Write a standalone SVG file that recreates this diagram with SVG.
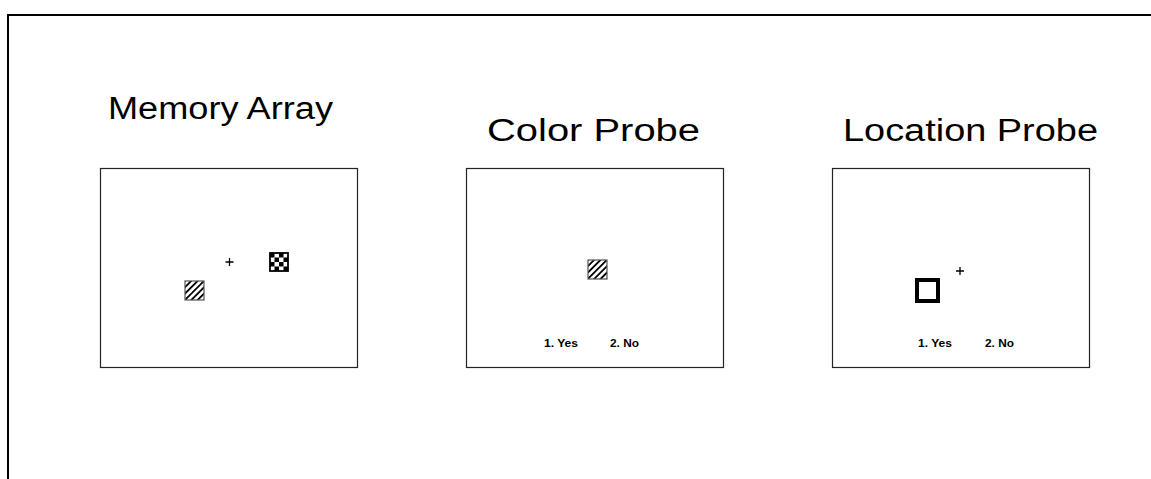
<svg xmlns="http://www.w3.org/2000/svg" width="1151" height="479" viewBox="0 0 1151 479">
<style>
.title{font-family:"Liberation Sans",Arial,sans-serif;font-size:31px;fill:#000}
.opt{font-family:"Liberation Sans",Arial,sans-serif;font-size:11px;font-weight:bold;fill:#000}
.screen{fill:#fff;stroke:#222;stroke-width:1.2}
.cross{stroke:#000;stroke-width:1.3}
</style>
<defs>
<pattern id="hatch" patternUnits="userSpaceOnUse" width="4.5" height="4.5" patternTransform="rotate(45)">
<rect width="4.5" height="4.5" fill="#fff"/>
<rect x="0" y="0" width="1.8" height="4.5" fill="#000"/>
</pattern>
<pattern id="checker" patternUnits="userSpaceOnUse" x="270" y="253" width="9" height="9">
<rect width="9" height="9" fill="#fff"/>
<rect width="4.5" height="4.5" fill="#000"/>
<rect x="4.5" y="4.5" width="4.5" height="4.5" fill="#000"/>
</pattern>
</defs>
<rect width="1151" height="479" fill="#fff"/>
<path d="M8 479 V15 H1151" fill="none" stroke="#000" stroke-width="2"/>
<g id="memory-array">
<text class="title" x="108" y="119" textLength="225" lengthAdjust="spacingAndGlyphs">Memory Array</text>
<rect class="screen" x="100.5" y="168.5" width="257" height="199"/>
<path class="cross" d="M225.5 262 h8 M229.5 258 v8"/>
<rect x="270" y="253" width="18" height="18" fill="url(#checker)" stroke="#000" stroke-width="1.8"/>
<rect x="185" y="281" width="19" height="19" fill="url(#hatch)" stroke="#555" stroke-width="1.2"/>
</g>
<g id="color-probe">
<text class="title" x="487" y="141" textLength="213" lengthAdjust="spacingAndGlyphs">Color Probe</text>
<rect class="screen" x="466.5" y="168.5" width="257" height="199"/>
<rect x="588" y="260" width="19" height="19" fill="url(#hatch)" stroke="#555" stroke-width="1.2"/>
<text class="opt" x="544" y="347" textLength="34" lengthAdjust="spacingAndGlyphs">1. Yes</text>
<text class="opt" x="610" y="347" textLength="29" lengthAdjust="spacingAndGlyphs">2. No</text>
</g>
<g id="location-probe">
<text class="title" x="843" y="141" textLength="255" lengthAdjust="spacingAndGlyphs">Location Probe</text>
<rect class="screen" x="832.5" y="168.5" width="257" height="199"/>
<path class="cross" d="M956 271 h8 M960 267 v8"/>
<rect x="917" y="280" width="21" height="21" fill="none" stroke="#000" stroke-width="4"/>
<text class="opt" x="918" y="347" textLength="34" lengthAdjust="spacingAndGlyphs">1. Yes</text>
<text class="opt" x="985" y="347" textLength="29" lengthAdjust="spacingAndGlyphs">2. No</text>
</g>
<g id="connectors"></g>
</svg>
